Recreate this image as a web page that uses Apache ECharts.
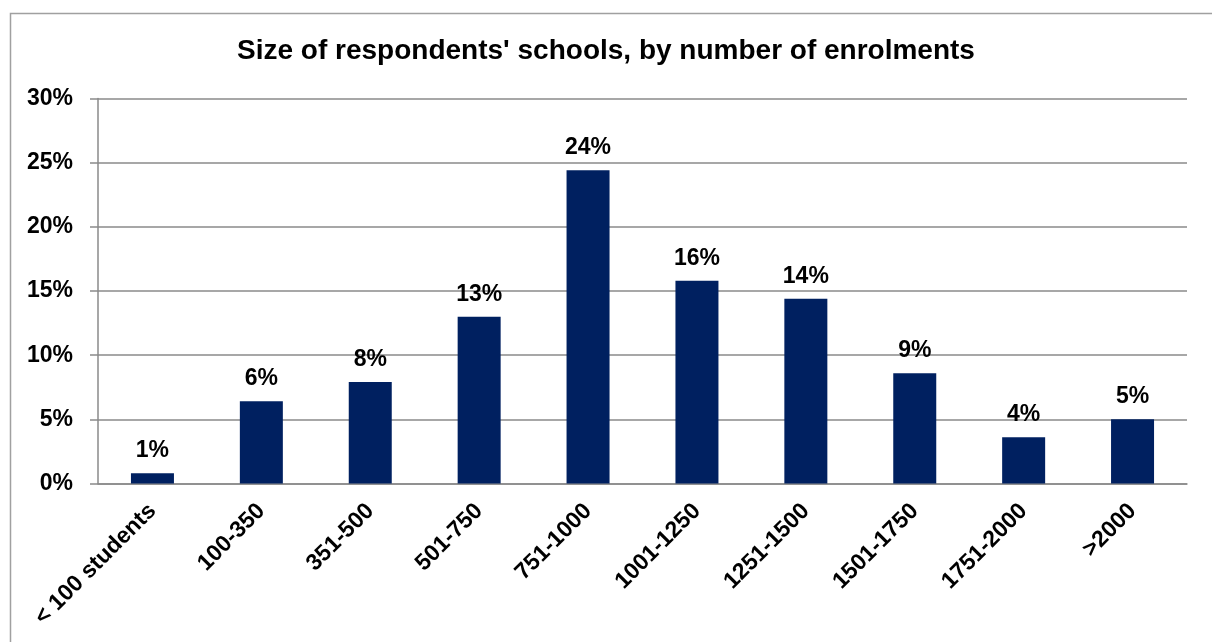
<!DOCTYPE html>
<html>
  <head>
    <meta charset="utf-8" />
    <style>
      html, body { margin: 0; padding: 0; background: #fff; }
    </style>
  </head>
  <body>
  <div id="main" style="width: 1212px;height:642px;"></div>

  <script type="text/javascript" src="https://cdn.jsdelivr.net/npm/echarts@6/dist/echarts.min.js"></script>
  <script type="text/javascript">
      // chart data
      var categories = ['< 100 students', '100-350', '351-500', '501-750', '751-1000',
                        '1001-1250', '1251-1500', '1501-1750', '1751-2000', '>2000'];
      var shares = [0.8, 6.4, 7.9, 13.0, 24.4, 15.8, 14.4, 8.6, 3.6, 5.0];
      var yTicks = [0, 5, 10, 15, 20, 25, 30];

      var gray = '#8a8a8a';
      var font = 'Arial, "Liberation Sans", sans-serif';

      var myChart = echarts.init(document.getElementById('main'));

      var option = {
        animation: false,
        backgroundColor: '#fff',
        title: {
          text: "Size of respondents' schools, by number of enrolments",
          left: 'center',
          top: 32,
          textStyle: { fontFamily: font, fontSize: 28, fontWeight: 'bold', color: '#000' }
        },
        graphic: [{
          type: 'rect',
          shape: { x: 10.5, y: 13.5, width: 1300, height: 800 },
          style: { fill: 'none', stroke: '#a0a0a0', lineWidth: 1.5 },
          silent: true
        }],
        grid: { left: 98, right: 25, top: 98.5, bottom: 158.5 },
        xAxis: {
          type: 'category',
          data: categories,
          axisLine: { lineStyle: { color: gray, width: 1.5 } },
          axisTick: { length: 8, lineStyle: { color: gray, width: 1.5 } },
          axisLabel: {
            interval: 0,
            rotate: 45,
            margin: 24,
            fontFamily: font,
            fontSize: 23,
            fontWeight: 'bold',
            color: '#000'
          }
        },
        yAxis: {
          type: 'value',
          min: yTicks[0],
          max: yTicks[yTicks.length - 1],
          interval: 5,
          axisLine: { show: true, lineStyle: { color: gray, width: 1.5 } },
          axisTick: { show: true, length: 8, lineStyle: { color: gray, width: 1.5 } },
          splitLine: { lineStyle: { color: gray, width: 1.5 } },
          axisLabel: {
            formatter: '{value}%',
            margin: 25,
            fontFamily: font,
            fontSize: 23,
            fontWeight: 'bold',
            color: '#000'
          }
        },
        series: [{
          type: 'bar',
          data: shares,
          barWidth: 43,
          itemStyle: { color: '#002060' },
          label: {
            show: true,
            position: 'top',
            distance: 11,
            formatter: function (p) { return Math.round(p.value) + '%'; },
            fontFamily: font,
            fontSize: 23,
            fontWeight: 'bold',
            color: '#000'
          }
        }]
      };

      myChart.setOption(option);
  </script>
</body>
</html>
